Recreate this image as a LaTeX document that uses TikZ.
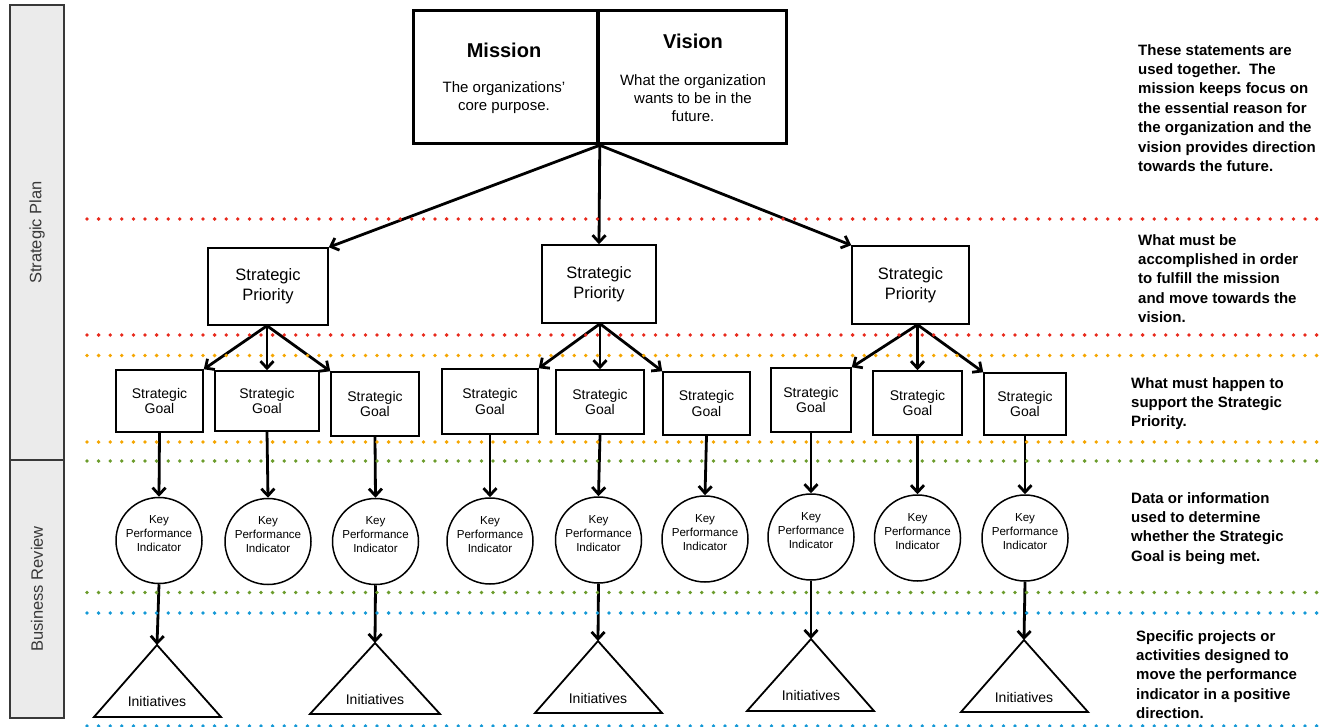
\documentclass[tikz,border=0pt]{standalone}
\usepackage{fontspec}
\setmainfont{Liberation Sans}
\usetikzlibrary{arrows.meta}
\usetikzlibrary{positioning}
\definecolor{Panel2}{rgb}{.92,.92,.92}
\definecolor{Frame2}{rgb}{.22,.22,.22}
\definecolor{DotRed}{rgb}{.91,.16,.11}
\definecolor{DotOrange}{rgb}{.96,.65,0}
\definecolor{DotGreen}{rgb}{.42,.61,.17}
\definecolor{DotBlue}{rgb}{.08,.6,.84}

\begin{document}
\begin{tikzpicture}[
  x=1pt, y=-1pt,
  panel/.style={draw=Frame2, fill=Panel2, line width=1.5pt, rotate=90,
    minimum height=54, text=Frame2, font=\fontsize{16.5}{20}\selectfont},
  mvbox/.style={draw, line width=3.5pt, minimum height=133},
  mvhead/.style={font=\bfseries\fontsize{20}{24}\selectfont},
  mvtext/.style={align=center, font=\fontsize{15}{18}\selectfont},
  spbox/.style={draw, line width=1.5pt, minimum width=117, minimum height=78,
    align=center, font=\fontsize{16.5}{20}\selectfont},
  goalbox/.style={draw, line width=1.5pt, minimum height=63,
    align=center, font=\fontsize{14}{15.5}\selectfont},
  kpi/.style={circle, draw, line width=1.5pt, minimum size=86, inner sep=0,
    align=center, text depth=13pt, font=\fontsize{11.6}{14}\selectfont},
  tri/.style={draw, line width=1.8pt, line join=miter},
  inittext/.style={font=\fontsize{14}{16}\selectfont},
  note/.style={anchor=north west, align=left, inner sep=0,
    font=\bfseries\fontsize{15}{19.4}\selectfont},
  flow/.style={-{Straight Barb[length=7pt,width=13pt]}, line width=2.8pt},
  dotline/.style={#1, line width=3.8pt, dash pattern=on 0pt off 11.6pt, line cap=round},
  ]
\useasboundingbox (0,0) rectangle (1327,727);

% side panels
\node [panel, minimum width=455] (plan) at (37,232.5) {Strategic Plan};
\node [panel, minimum width=258] (review) at (37,589) {Business Review};

% mission and vision
\node [mvbox, minimum width=184.5] (mission) at (505.75,77) {};
\node [mvbox, minimum width=188.5] (vision) at (692.25,77) {};
\node [mvhead] (missionhead) at (504,50) {Mission};
\node [mvtext] (missiontext) at (504,98) {The organizations’\\core purpose.};
\node [mvhead] (visionhead) at (693,41) {Vision};
\node [mvtext] (visiontext) at (693,98.5) {What the organization\\wants to be in the\\future.};

% strategic priorities
\node [spbox, minimum width=120, minimum height=77] (sp1) at (268,286.5) {Strategic\\Priority};
\node [spbox, minimum width=114] (sp2) at (599,284) {Strategic\\Priority};
\node [spbox] (sp3) at (910.5,285) {Strategic\\Priority};

% strategic goals
\node [goalbox, minimum width=87, minimum height=62] (g1) at (159.5,401) {Strategic\\Goal};
\node [goalbox, minimum width=104, minimum height=60] (g2) at (267,401) {Strategic\\Goal};
\node [goalbox, minimum width=88, minimum height=64] (g3) at (375,404) {Strategic\\Goal};
\node [goalbox, minimum width=96, minimum height=65] (g4) at (490,401.5) {Strategic\\Goal};
\node [goalbox, minimum width=88, minimum height=64] (g5) at (600,402) {Strategic\\Goal};
\node [goalbox, minimum width=87] (g6) at (706.5,403.5) {Strategic\\Goal};
\node [goalbox, minimum width=80, minimum height=64] (g7) at (811,400) {Strategic\\Goal};
\node [goalbox, minimum width=89, minimum height=64] (g8) at (917.5,403) {Strategic\\Goal};
\node [goalbox, minimum width=82, minimum height=62] (g9) at (1025,404) {Strategic\\Goal};

% key performance indicators
\node [kpi] (k1) at (159,540.5) {Key\\Performance\\Indicator};
\node [kpi] (k2) at (268,541.5) {Key\\Performance\\Indicator};
\node [kpi] (k3) at (375.5,541.5) {Key\\Performance\\Indicator};
\node [kpi] (k4) at (490,541) {Key\\Performance\\Indicator};
\node [kpi] (k5) at (598.5,540) {Key\\Performance\\Indicator};
\node [kpi] (k6) at (705,539) {Key\\Performance\\Indicator};
\node [kpi] (k7) at (811,537) {Key\\Performance\\Indicator};
\node [kpi] (k8) at (917.5,538) {Key\\Performance\\Indicator};
\node [kpi] (k9) at (1025,538) {Key\\Performance\\Indicator};

% initiatives
\coordinate (i1) at (157,645);
\coordinate (i2) at (375,643);
\coordinate (i3) at (598,641);
\coordinate (i4) at (811,639);
\coordinate (i5) at (1024,640);
\draw [tri] (i1) -- (94,717) -- (221,717) -- cycle;
\draw [tri] (i2) -- (310,714) -- (440,714) -- cycle;
\draw [tri] (i3) -- (535,713) -- (662,713) -- cycle;
\draw [tri] (i4) -- (747,711) -- (874,711) -- cycle;
\draw [tri] (i5) -- (961,712) -- (1088,712) -- cycle;
\node [inittext] (i1text) at (157,701) {Initiatives};
\node [inittext] (i2text) at (375,699) {Initiatives};
\node [inittext] (i3text) at (598,698) {Initiatives};
\node [inittext] (i4text) at (811,695) {Initiatives};
\node [inittext] (i5text) at (1024,697) {Initiatives};

\path [flow]
(mission.south east) edge (sp1.north east)
(mission.south east) edge (sp2.north)
(mission.south east) edge (sp3.north west)
(g2.north |- sp1.south) edge (g1.north east)
(g2.north |- sp1.south) edge (g2.north)
(g2.north |- sp1.south) edge (g3.north west)
(g5.north |- sp2.south) edge (g4.north east)
(g5.north |- sp2.south) edge (g5.north)
(g5.north |- sp2.south) edge (g6.north west)
(g8.north |- sp3.south) edge (g7.north east)
(g8.north |- sp3.south) edge (g8.north)
(g8.north |- sp3.south) edge (g9.north west)
(g1.south) edge (k1.north)
(g2.south) edge (k2.north)
(g3.south) edge (k3.north)
(g4.south) edge (k4.north)
(g5.south) edge (k5.north)
(g6.south) edge (k6.north)
(g7.south) edge (k7.north)
(g8.south) edge (k8.north)
(g9.south) edge (k9.north)
(k1.south) edge (i1)
(k3.south) edge (i2)
(k5.south) edge (i3)
(k7.south) edge (i4)
(k9.south) edge (i5);

% level separators
\draw [dotline=DotRed] (87,219) -- (1327,219);
\draw [dotline=DotRed] (87,335) -- (1327,335);
\draw [dotline=DotOrange] (87,355.5) -- (1327,355.5);
\draw [dotline=DotOrange] (87,442) -- (1327,442);
\draw [dotline=DotGreen] (87,461) -- (1327,461);
\draw [dotline=DotGreen] (87,592.5) -- (1327,592.5);
\draw [dotline=DotBlue] (87,613) -- (1327,613);
\draw [dotline=DotBlue] (87,726) -- (1327,726);

% notes
\node [note] (note1) at (1138,44) {These statements are\\used together.\ \ The\\mission keeps focus on\\the essential reason for\\the organization and the\\vision provides direction\\towards the future.};
\node [note] (note2) at (1138,234) {What must be\\accomplished in order\\to fulfill the mission\\and move towards the\\vision.};
\node [note] (note3) at (1131,377) {What must happen to\\support the Strategic\\Priority.};
\node [note] (note4) at (1131,492) {Data or information\\used to determine\\whether the Strategic\\Goal is being met.};
\node [note] (note5) at (1136,630) {Specific projects or\\activities designed to\\move the performance\\indicator in a positive\\direction.};
\end{tikzpicture}
\end{document}
